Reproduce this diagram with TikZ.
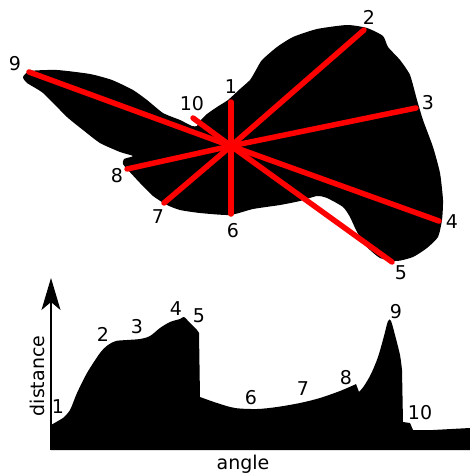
\documentclass[tikz,border=0pt]{standalone}
\usepackage{fontspec}
\setmainfont{DejaVu Sans}
\usetikzlibrary{arrows.meta}
\begin{document}
\begin{tikzpicture}[x=1pt,y=-1pt,
    ray/.style={red, line width=5.5pt, line cap=round},
    lbl/.style={inner sep=0pt, font=\fontsize{19}{23}\selectfont}]
  \useasboundingbox (0,0) rectangle (470,474);
  % Shape
  \fill[black] plot[smooth cycle, tension=0.35] coordinates {
    (23,77) (30,71) (57,70) (90,74) (112,80) (133,90) (147,100) (163,113)
    (180,120) (192,126) (197,126) (200,121) (207,114) (217,107) (228,100)
    (240,89) (250,80) (256,70) (262,60) (277,47) (293,37) (317,29) (347,25)
    (367,28) (383,36) (388,47) (400,60) (410,75) (417,100) (423,120)
    (433,147) (440,173) (443,200) (442,220) (438,237) (427,248) (413,257)
    (397,261) (380,258) (367,247) (357,232) (350,217) (343,207) (327,198)
    (317,196) (300,201) (280,205) (253,209) (230,215) (200,213) (180,210)
    (167,205) (153,196) (140,183) (128,170) (123,164) (124,159) (133,156)
    (120,152) (100,143) (83,130) (67,117) (43,93) (27,83)};
  % Rays from the centre
  \coordinate (c) at (231,146);
  \foreach \i/\px/\py/\lx/\ly in {1/231/102/231/87, 2/364/30/369/17,
      3/416/108/428/103, 4/439/221/452/222, 5/392/262/401/273,
      6/231/214/233/231, 7/164/203/158/217, 8/127/169/117/176,
      9/29/72/15/64, 10/193/118/192/104} {
    \coordinate (p\i) at (\px,\py);
    \draw[ray] (c) -- (p\i);
    \node[lbl] (l\i) at (\lx,\ly) {\i};
  }
  % Distance profile
  \fill[black] (51,450) -- (51,425)
    -- plot[smooth, tension=0.5] coordinates {(51,425) (58,421) (63,418)
      (70,410) (77,393) (87,373) (100,353) (108,345) (116,341) (127,340)
      (140,339) (150,336) (160,328) (170,322) (180,319) (184,317) (190,323)
      (197,330) (199,333)}
    -- plot[smooth, tension=0.5] coordinates {(200,397) (217,403) (235,408)
      (257,409) (277,407) (300,403) (320,398) (340,391) (354,385) (356,384)}
    -- (359,392)
    -- plot[smooth, tension=0.5] coordinates {(359,392) (364,386) (371,374)
      (378,357) (384,336) (388,321) (391,321) (395,335) (400,355) (402,370)}
    -- (403,422) -- (410,423) -- (413,430) -- (433,430) -- (470,428)
    -- (470,450) -- cycle;
  % Axes
  \coordinate (o) at (51,450);
  \coordinate (top) at (51,278);
  \draw[line width=1.2pt, -{Stealth[length=32pt, width=19pt, inset=8pt]}]
    (o) -- (top);
  \node[lbl, rotate=90] (dist) at (37,376) {distance};
  \node[lbl] (ang) at (243,464) {angle};
  % Profile labels
  \foreach \i/\lx/\ly in {1/58/407, 2/103/334, 3/137/327, 4/176/309,
      5/199/316, 6/251/398, 7/303/389, 8/346/378, 9/396/312, 10/420/413} {
    \node[lbl] (g\i) at (\lx,\ly) {\i};
  }
\end{tikzpicture}
\end{document}
